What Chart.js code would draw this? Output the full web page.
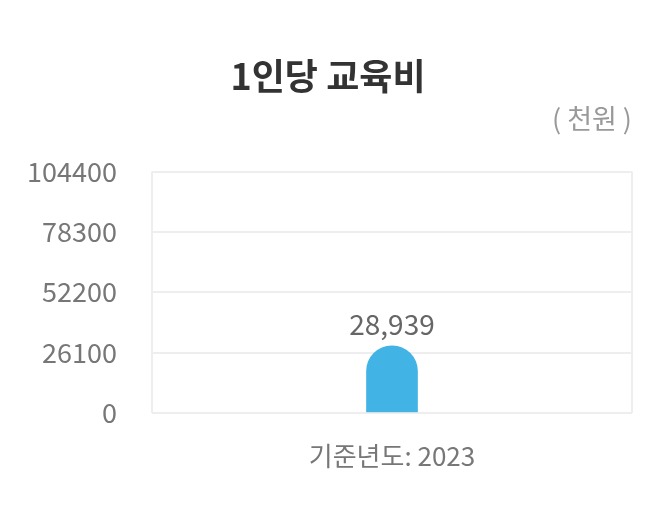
<!DOCTYPE html>
<html>
<head>
<meta charset="utf-8">
<script src="https://cdn.jsdelivr.net/npm/chart.js@4"></script>
<style>
  html, body { margin: 0; padding: 0; background: #fff; }
  #wrap { width: 665px; height: 519px; }
</style>
</head>
<body>
<div id="wrap"><canvas id="eduChart"></canvas></div>
<script>
const titleText = '1인당 교육비';
const unitText = '( 천원 )';
const categories = ['기준년도: 2023'];
const values = [28939];
const yTicks = [0, 26100, 52200, 78300, 104400];

document.addEventListener('DOMContentLoaded', () =>
{
    const baseFont = '"Noto Sans CJK KR", sans-serif';

    // value label above each bar
    const valueLabels = {
        id: 'valueLabels',
        afterDatasetsDraw(chart)
        {
            const ctx = chart.ctx;
            const meta = chart.getDatasetMeta(0);
            ctx.save();
            ctx.font = '28px ' + baseFont;
            ctx.fillStyle = '#666';
            ctx.textAlign = 'center';
            ctx.textBaseline = 'bottom';
            meta.data.forEach((bar, i) =>
            {
                ctx.fillText(values[i].toLocaleString('en-US'), bar.x, bar.y - 8);
            });
            ctx.restore();
        }
    };

    const ctx = document.getElementById('eduChart').getContext('2d');
    new Chart(ctx, {
        type: 'bar',
        data: {
            labels: categories,
            datasets: [{
                data: values,
                backgroundColor: '#41b3e5',
                barThickness: 51,
                borderRadius: { topLeft: 26, topRight: 26, bottomLeft: 0, bottomRight: 0 },
                borderSkipped: false
            }]
        },
        options: {
            responsive: true,
            maintainAspectRatio: false,
            animation: false,
            layout: { padding: { left: 24, right: 33, top: 0, bottom: 19 } },
            plugins: {
                legend: { display: false },
                tooltip: { enabled: false },
                title: {
                    display: true,
                    text: titleText,
                    color: '#333',
                    font: { family: baseFont, size: 36, weight: 'bold', lineHeight: 1.2 },
                    padding: { top: 55, bottom: 4 }
                },
                subtitle: {
                    display: true,
                    text: unitText,
                    align: 'end',
                    color: '#999',
                    font: { family: baseFont, size: 27, lineHeight: 1.2 },
                    padding: { top: 0, bottom: 37 }
                }
            },
            scales: {
                x: {
                    offset: true,
                    grid: { display: true, offset: true, color: '#eee', lineWidth: 2, drawTicks: false },
                    border: { display: false },
                    ticks: {
                        color: '#777',
                        padding: 28,
                        font: { family: baseFont, size: 26 }
                    }
                },
                y: {
                    min: 0,
                    max: yTicks[yTicks.length - 1],
                    afterBuildTicks: scale => { scale.ticks = yTicks.map(v => ({ value: v })); },
                    afterFit: scale => { scale.width = 128; },
                    grid: { color: '#eee', lineWidth: 2, drawTicks: false },
                    border: { display: false },
                    ticks: {
                        color: '#777',
                        padding: 35,
                        font: { family: baseFont, size: 27 },
                        callback: v => String(v)
                    }
                }
            }
        },
        plugins: [valueLabels]
    });
});
</script>
</body>
</html>
